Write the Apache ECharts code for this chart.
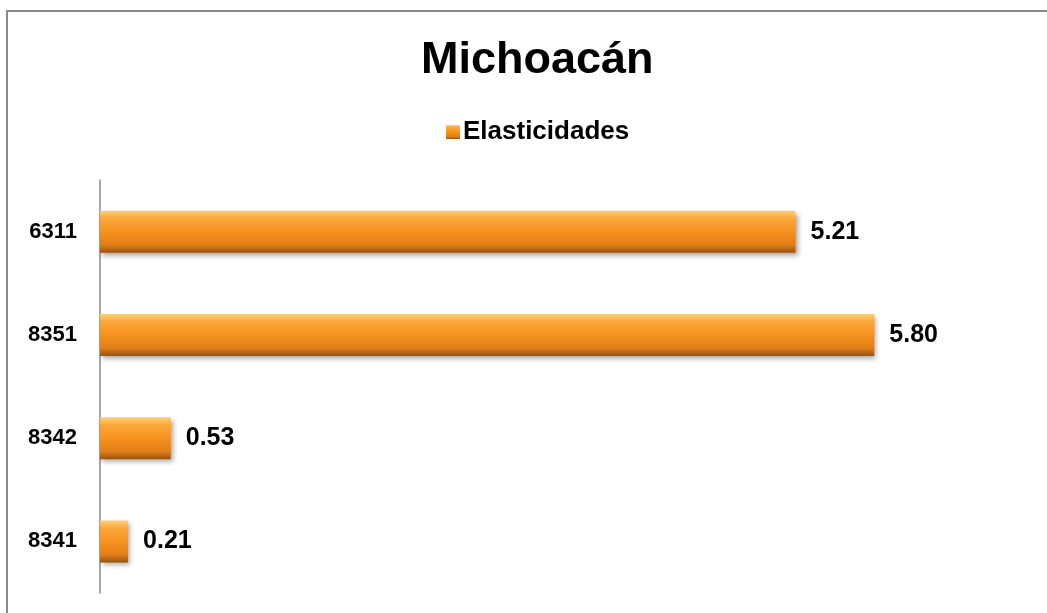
<!DOCTYPE html>
<html>
<head>
<meta charset="utf-8">
<script src="https://cdn.jsdelivr.net/npm/echarts@6/dist/echarts.min.js"></script>
<style>
  html, body { margin: 0; padding: 0; background: #fff; }
  #frame {
    position: absolute; left: 6px; top: 10px; width: 1100px; height: 700px;
    border-left: 2px solid #8a8a8a; border-top: 2px solid #8a8a8a;
  }
  #chart { position: absolute; left: 0; top: 0; width: 1047px; height: 613px; }
</style>
</head>
<body>
<div id="frame"></div>
<div id="chart"></div>
<script>
  const codes = ['6311', '8351', '8342', '8341'];
  const elasticidades = [5.21, 5.80, 0.53, 0.21];

  const barColor = new echarts.graphic.LinearGradient(0, 0, 0, 1, [
    { offset: 0, color: '#fdd27a' },
    { offset: 0.18, color: '#fba83c' },
    { offset: 0.5, color: '#f7921f' },
    { offset: 0.82, color: '#e07e17' },
    { offset: 1, color: '#9c5210' }
  ]);

  const chart = echarts.init(document.getElementById('chart'));
  chart.setOption({
    animation: false,
    title: {
      text: 'Michoacán',
      left: 416,
      top: 33,
      textStyle: { fontFamily: 'Liberation Sans', fontSize: 45, fontWeight: 'bold', color: '#000' }
    },
    legend: {
      data: ['Elasticidades'],
      left: 441,
      top: 114,
      itemWidth: 14,
      itemHeight: 14,
      itemGap: 4,
      icon: 'rect',
      textStyle: { fontFamily: 'Liberation Sans', fontSize: 26, fontWeight: 'bold', color: '#000', padding: [0, 0, 0, -2] }
    },
    grid: { left: 100, top: 180, bottom: 20, width: 934.5 },
    xAxis: {
      type: 'value',
      min: 0,
      max: 7,
      show: false
    },
    yAxis: {
      type: 'category',
      data: codes,
      inverse: true,
      axisLine: { show: true, lineStyle: { color: '#8a8a8a', width: 1.5 } },
      axisTick: { show: false },
      axisLabel: {
        margin: 23,
        fontFamily: 'Liberation Sans',
        fontSize: 22,
        fontWeight: 'bold',
        color: '#000'
      }
    },
    series: [{
      name: 'Elasticidades',
      type: 'bar',
      data: elasticidades,
      barWidth: 42,
      itemStyle: {
        color: barColor,
        shadowColor: 'rgba(0,0,0,0.35)',
        shadowBlur: 5,
        shadowOffsetX: 2,
        shadowOffsetY: 3
      },
      label: {
        show: true,
        position: 'right',
        distance: 15,
        formatter: p => p.value.toFixed(2),
        fontFamily: 'Liberation Sans',
        fontSize: 25,
        fontWeight: 'bold',
        color: '#000'
      }
    }]
  });
</script>
</body>
</html>
